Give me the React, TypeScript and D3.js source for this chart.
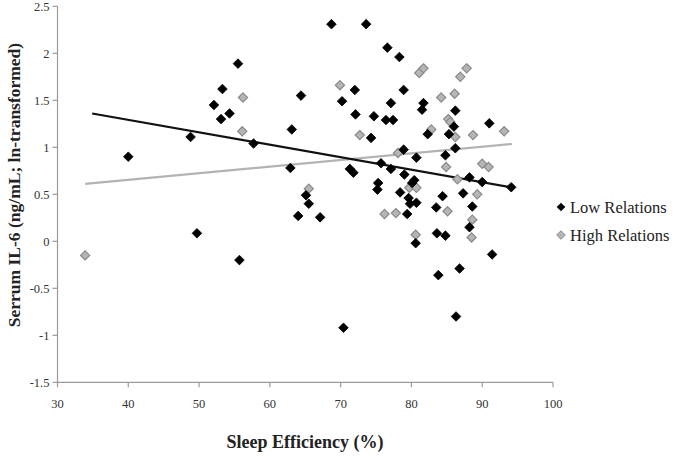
import React from "react";
import * as d3 from "d3";

const lowX = [40.0, 48.8, 49.7, 52.1, 53.3, 53.1, 54.3, 55.5, 55.7, 57.7, 63.1, 64.4, 62.9, 64.0, 65.1, 65.5, 67.1, 70.4, 68.7, 73.6, 76.6, 78.3, 72.0, 78.9, 70.2, 77.1, 81.7, 81.5, 86.2, 72.1, 74.7, 76.4, 77.4, 91.0, 86.0, 82.3, 85.3, 74.3, 78.9, 86.2, 80.7, 84.8, 75.7, 77.1, 71.3, 71.8, 79.0, 88.2, 90.0, 94.1, 75.3, 75.2, 80.4, 80.1, 78.4, 84.4, 87.3, 79.6, 79.8, 80.7, 79.4, 83.5, 88.6, 88.2, 83.6, 84.8, 80.6, 91.4, 86.8, 83.8, 86.3];
const lowY = [0.90, 1.11, 0.085, 1.45, 1.62, 1.30, 1.36, 1.89, -0.20, 1.04, 1.19, 1.55, 0.78, 0.27, 0.49, 0.40, 0.255, -0.92, 2.31, 2.31, 2.06, 1.96, 1.61, 1.61, 1.49, 1.47, 1.47, 1.40, 1.39, 1.35, 1.33, 1.29, 1.29, 1.255, 1.22, 1.14, 1.14, 1.10, 0.975, 0.99, 0.89, 0.915, 0.83, 0.77, 0.77, 0.73, 0.71, 0.68, 0.63, 0.575, 0.62, 0.55, 0.65, 0.62, 0.52, 0.48, 0.51, 0.46, 0.40, 0.41, 0.29, 0.36, 0.37, 0.15, 0.085, 0.06, -0.02, -0.14, -0.29, -0.36, -0.80];

const highX = [33.9, 56.2, 56.1, 65.5, 69.9, 81.1, 81.7, 87.8, 86.9, 84.2, 86.1, 85.2, 85.5, 82.8, 93.1, 86.2, 88.7, 72.7, 78.1, 84.9, 90.0, 90.9, 86.5, 79.7, 80.7, 89.3, 76.2, 77.8, 85.1, 88.6, 80.6, 88.5];
const highY = [-0.15, 1.53, 1.17, 0.56, 1.66, 1.79, 1.84, 1.84, 1.75, 1.53, 1.57, 1.30, 1.27, 1.19, 1.17, 1.11, 1.13, 1.13, 0.94, 0.79, 0.825, 0.79, 0.66, 0.57, 0.57, 0.50, 0.29, 0.30, 0.32, 0.23, 0.07, 0.04];

const lowTrend = [[34.9, 1.36], [94.1, 0.575]];
const highTrend = [[33.9, 0.61], [94.2, 1.035]];

const xTicks = [30, 40, 50, 60, 70, 80, 90, 100];
const yTicks = [-1.5, -1, -0.5, 0, 0.5, 1, 1.5, 2, 2.5];

const seriesNames = ["Low Relations", "High Relations"];
const xTitle = "Sleep Efficiency (%)";
const yTitle = "Serrum IL-6 (ng/mL; ln-transformed)";

const W = 675;
const H = 457;
const FONT = "'Liberation Serif', 'DejaVu Serif', serif";

export default function App() {
  const x = d3.scaleLinear().domain([30, 100]).range([57.5, 553]);
  const y = d3.scaleLinear().domain([-1.5, 2.5]).range([382.3, 6.3]);
  const line = d3
    .line<number[]>()
    .x((d) => x(d[0]))
    .y((d) => y(d[1]));
  const diamond = (cx: number, cy: number, r: number) =>
    `M${cx},${cy - r}L${cx + r},${cy}L${cx},${cy + r}L${cx - r},${cy}Z`;
  const axisColor = "#9a9a9a";

  return (
    <svg
      width={W}
      height={H}
      style={{ position: "absolute", left: 0, top: 0, background: "#fff" }}
      fontFamily={FONT}
    >
      {/* axes */}
      <line x1={x(30)} x2={x(30)} y1={y(2.5)} y2={y(-1.5)} stroke={axisColor} strokeWidth={1.2} />
      <line x1={x(30)} x2={x(100)} y1={y(-1.5)} y2={y(-1.5)} stroke={axisColor} strokeWidth={1.2} />
      {yTicks.map((t) => (
        <g key={"y" + t}>
          <line x1={x(30) - 5} x2={x(30)} y1={y(t)} y2={y(t)} stroke={axisColor} strokeWidth={1.2} />
          <text x={x(30) - 8} y={y(t)} dy="0.35em" textAnchor="end" fontSize={12.5} fill="#333">
            {t}
          </text>
        </g>
      ))}
      {xTicks.map((t) => (
        <g key={"x" + t}>
          <line x1={x(t)} x2={x(t)} y1={y(-1.5)} y2={y(-1.5) + 5} stroke={axisColor} strokeWidth={1.2} />
          <text x={x(t)} y={y(-1.5) + 26} textAnchor="middle" fontSize={12.5} fill="#333">
            {t}
          </text>
        </g>
      ))}

      {/* trend lines */}
      <path d={line(highTrend) || ""} stroke="#b3b3b3" strokeWidth={2.2} fill="none" />
      <path d={line(lowTrend) || ""} stroke="#111" strokeWidth={2.2} fill="none" />

      {/* points */}
      {highX.map((v, i) => (
        <path key={"h" + i} d={diamond(x(v), y(highY[i]), 4.6)} fill="#b5b5b5" stroke="#8a8a8a" strokeWidth={1.2} />
      ))}
      {lowX.map((v, i) => (
        <path key={"l" + i} d={diamond(x(v), y(lowY[i]), 4.8)} fill="#000" stroke="#000" strokeWidth={0.8} />
      ))}

      {/* legend */}
      <path d={diamond(561, 207, 4.3)} fill="#000" />
      <text x={570} y={207} dy="0.35em" fontSize={16.5} fill="#222">
        {seriesNames[0]}
      </text>
      <path d={diamond(561, 235, 4.3)} fill="#b5b5b5" stroke="#8a8a8a" strokeWidth={1} />
      <text x={570} y={235} dy="0.35em" fontSize={16.5} fill="#222">
        {seriesNames[1]}
      </text>

      {/* titles */}
      <text x={305} y={448} textAnchor="middle" fontSize={18} fontWeight="bold" fill="#222">
        {xTitle}
      </text>
      <text
        transform={`translate(20,185) rotate(-90)`}
        textAnchor="middle"
        fontSize={17.5}
        fontWeight="bold"
        fill="#222"
      >
        {yTitle}
      </text>
    </svg>
  );
}
